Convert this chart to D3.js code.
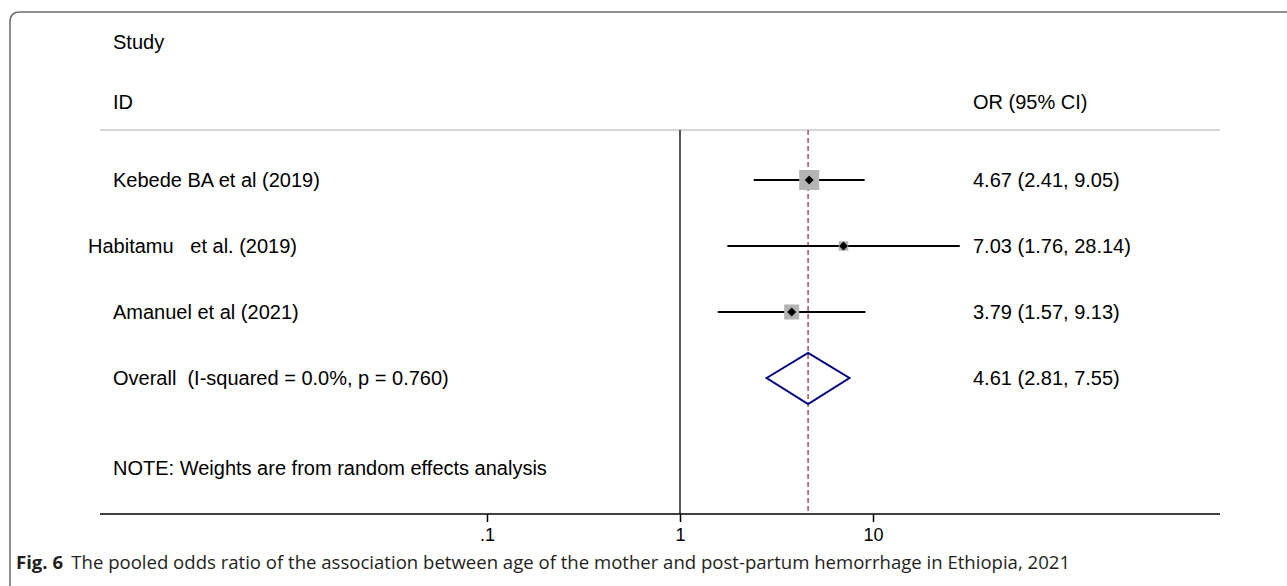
<!DOCTYPE html>
<html>
<head>
<meta charset="utf-8">
<script src="https://cdn.jsdelivr.net/npm/d3@7"></script>
<style>
  body { margin: 0; background: #fff; }
  svg text { font-family: "Liberation Sans", Arial, sans-serif; }
</style>
</head>
<body>
<svg id="chart" width="1287" height="586"></svg>
<script>
// data
var studies = ["Kebede BA et al (2019)", "Habitamu   et al. (2019)", "Amanuel et al (2021)"];
var orValues = [4.67, 7.03, 3.79];
var lowerCI = [2.41, 1.76, 1.57];
var upperCI = [9.05, 28.14, 9.13];
var weights = [8.78, 2.0, 4.96];
var pooled = { label: "Overall  (I-squared = 0.0%, p = 0.760)", or: 4.61, lo: 2.81, hi: 7.55 };
var tickVals = [0.1, 1, 10];
var tickLabels = [".1", "1", "10"];

var svg = d3.select("#chart");
var fs = 20;

// frame around the figure
svg.append("path")
  .attr("d", "M10,586 L10,22 Q10,12 20,12 L1290,12")
  .attr("fill", "none")
  .attr("stroke", "#6b6b6b")
  .attr("stroke-width", 1.5);

var x = d3.scaleLog().domain([0.1, 10]).range([487, 873]);
var y = d3.scaleLinear().domain([0, 1]).range([180, 246]);
var axisY = 514, topY = 130;

// header
svg.append("text").attr("x", 113).attr("y", 49).attr("font-size", fs).text("Study");
svg.append("text").attr("x", 113).attr("y", 109).attr("font-size", fs).text("ID");
svg.append("text").attr("x", 973).attr("y", 109).attr("font-size", fs).text("OR (95% CI)");
svg.append("line")
  .attr("x1", 100).attr("x2", 1220).attr("y1", topY).attr("y2", topY)
  .attr("stroke", "#c8c8c8").attr("stroke-width", 1.5);

// null line
svg.append("line")
  .attr("x1", x(1)).attr("x2", x(1)).attr("y1", topY).attr("y2", axisY)
  .attr("stroke", "#000").attr("stroke-width", 1.3);

// pooled dashed line
svg.append("line")
  .attr("x1", x(pooled.or)).attr("x2", x(pooled.or)).attr("y1", topY).attr("y2", axisY)
  .attr("stroke", "#a8545f").attr("stroke-width", 1.5)
  .attr("stroke-dasharray", "5,3");

var rows = svg.selectAll("g.row")
  .data(studies)
  .enter().append("g").attr("class", "row");

// CI lines
rows.append("line")
  .attr("x1", function(d, i){ return x(lowerCI[i]); })
  .attr("x2", function(d, i){ return x(upperCI[i]); })
  .attr("y1", function(d, i){ return y(i); })
  .attr("y2", function(d, i){ return y(i); })
  .attr("stroke", "#000").attr("stroke-width", 2);

// weight boxes
var maxW = d3.max(weights);
var side = function(i){ return 20 * Math.sqrt(weights[i] / maxW); };
rows.append("rect")
  .attr("x", function(d, i){ return x(orValues[i]) - side(i) / 2; })
  .attr("y", function(d, i){ return y(i) - side(i) / 2; })
  .attr("width", function(d, i){ return side(i); })
  .attr("height", function(d, i){ return side(i); })
  .attr("fill", "#b4b4b4");

// point estimate markers
rows.append("path")
  .attr("d", d3.symbol().type(d3.symbolDiamond2).size(50))
  .attr("transform", function(d, i){ return "translate(" + x(orValues[i]) + "," + y(i) + ")"; })
  .attr("fill", "#000");

rows.append("text")
  .attr("x", function(d, i){ return i === 1 ? 88 : 113; })
  .attr("y", function(d, i){ return y(i) + 7; })
  .attr("font-size", fs)
  .style("white-space", "pre")
  .text(function(d){ return d; });

rows.append("text")
  .attr("x", 973)
  .attr("y", function(d, i){ return y(i) + 7; })
  .attr("font-size", fs)
  .text(function(d, i){
    return orValues[i].toFixed(2) + " (" + lowerCI[i].toFixed(2) + ", " + upperCI[i].toFixed(2) + ")";
  });

// pooled diamond
var py = y(3);
svg.append("path")
  .attr("d", "M" + x(pooled.lo) + "," + py +
             " L" + x(pooled.or) + "," + (py - 25) +
             " L" + x(pooled.hi) + "," + py +
             " L" + x(pooled.or) + "," + (py + 26) + " Z")
  .attr("fill", "none").attr("stroke", "#000080").attr("stroke-width", 2);
svg.append("text").attr("x", 113).attr("y", py + 7).attr("font-size", fs)
  .style("white-space", "pre").text(pooled.label);
svg.append("text").attr("x", 973).attr("y", py + 7).attr("font-size", fs)
  .text(pooled.or.toFixed(2) + " (" + pooled.lo.toFixed(2) + ", " + pooled.hi.toFixed(2) + ")");

svg.append("text").attr("x", 113).attr("y", 475).attr("font-size", fs)
  .text("NOTE: Weights are from random effects analysis");

// axis
svg.append("line")
  .attr("x1", 100).attr("x2", 1220).attr("y1", axisY).attr("y2", axisY)
  .attr("stroke", "#000").attr("stroke-width", 1.5);
var axis = svg.append("g")
  .attr("transform", "translate(0," + axisY + ")")
  .call(d3.axisBottom(x).tickValues(tickVals).tickSizeOuter(0).tickSize(8).tickPadding(6)
    .tickFormat(function(d, i){ return tickLabels[i]; }));
axis.select(".domain").remove();
axis.selectAll(".tick line").attr("stroke-width", 1.5);
axis.selectAll(".tick text").attr("font-size", 18).attr("font-family", "Liberation Sans, Arial, sans-serif");

// caption
var cap = svg.append("text").attr("x", 16).attr("y", 569).attr("font-size", 18)
  .style("font-family", "'Open Sans', 'Noto Sans', sans-serif")
  .attr("fill", "#231f20");
cap.append("tspan").attr("font-weight", "bold").text("Fig. 6");
cap.append("tspan").attr("dx", 8)
  .text("The pooled odds ratio of the association between age of the mother and post-partum hemorrhage in Ethiopia, 2021");
cap.attr("textLength", 1054).attr("lengthAdjust", "spacingAndGlyphs");
</script>
</body>
</html>
